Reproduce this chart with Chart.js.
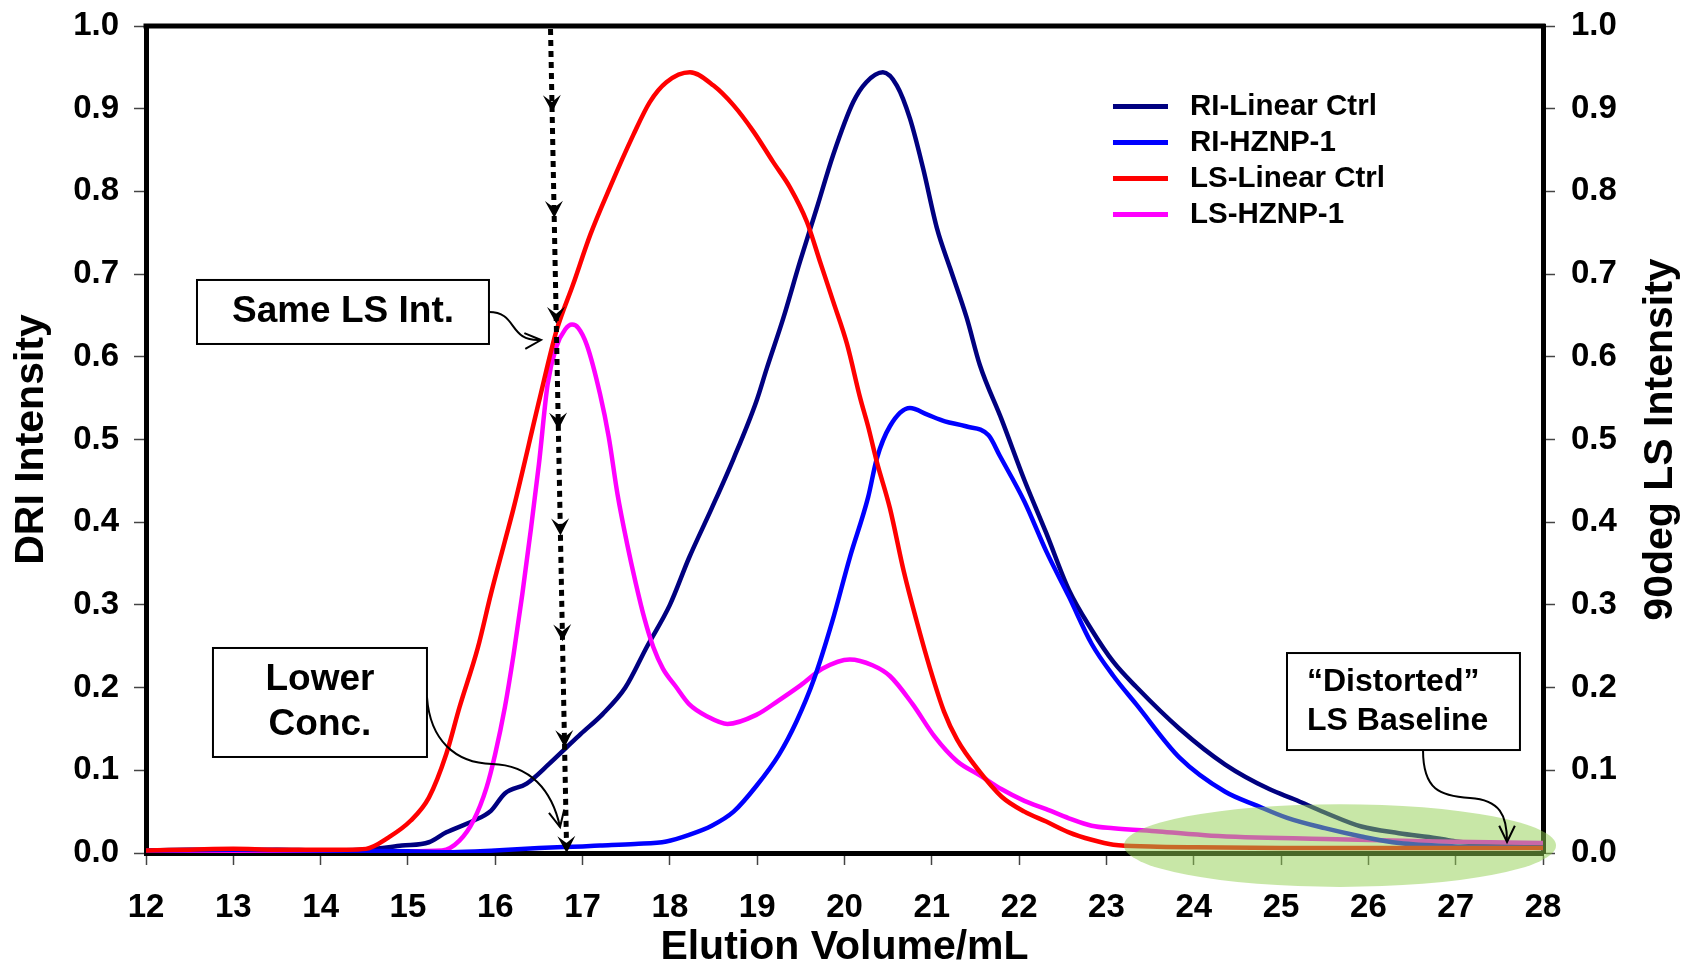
<!DOCTYPE html>
<html>
<head>
<meta charset="utf-8">
<script src="https://cdn.jsdelivr.net/npm/chart.js@4.4.1/dist/chart.umd.min.js"></script>
<style>
html,body{margin:0;padding:0;background:#fff;}
#wrap{width:1686px;height:964px;}
</style>
</head>
<body>
<div id="wrap"><canvas id="c" width="1686" height="964"></canvas></div>
<script>
// ---------- DATA ----------
const riLinearX = [12, 12.5, 13, 13.5, 14, 14.5, 14.93, 15.24, 15.44, 15.75, 15.95, 16.11, 16.36, 16.62, 16.82, 16.98, 17.23, 17.49, 17.74, 18.0, 18.22, 18.48, 18.73, 18.99, 19.11, 19.30, 19.49, 19.68, 19.87, 20.10, 20.25, 20.44, 20.60, 20.75, 20.90, 21.06, 21.21, 21.40, 21.55, 21.80, 22.06, 22.31, 22.57, 22.83, 23.08, 23.34, 23.84, 24.36, 24.87, 25.15, 25.5, 25.92, 26.35, 26.78, 27.0, 27.5, 28];
const riLinearY = [0.003, 0.004, 0.003, 0.004, 0.003, 0.004, 0.009, 0.013, 0.025, 0.039, 0.051, 0.072, 0.084, 0.108, 0.128, 0.144, 0.168, 0.200, 0.250, 0.300, 0.357, 0.417, 0.477, 0.546, 0.586, 0.647, 0.715, 0.779, 0.844, 0.908, 0.932, 0.944, 0.928, 0.888, 0.828, 0.755, 0.707, 0.647, 0.590, 0.524, 0.451, 0.387, 0.318, 0.270, 0.231, 0.201, 0.150, 0.107, 0.077, 0.065, 0.049, 0.032, 0.024, 0.018, 0.014, 0.010, 0.008];

const riHznpX = [12, 13, 14, 15, 15.5, 16, 16.5, 17, 17.2, 17.6, 17.96, 18.22, 18.48, 18.73, 18.99, 19.25, 19.45, 19.65, 19.86, 20.06, 20.27, 20.37, 20.52, 20.75, 20.95, 21.15, 21.39, 21.65, 21.78, 22.06, 22.31, 22.57, 22.83, 23.08, 23.34, 23.84, 24.36, 24.73, 25.07, 25.5, 25.92, 26.35, 27.0, 27.5, 28];
const riHznpY = [0.003, 0.004, 0.003, 0.002, 0.001, 0.003, 0.006, 0.008, 0.009, 0.011, 0.014, 0.022, 0.033, 0.050, 0.081, 0.119, 0.159, 0.210, 0.280, 0.357, 0.430, 0.477, 0.516, 0.538, 0.530, 0.522, 0.516, 0.505, 0.480, 0.425, 0.365, 0.310, 0.253, 0.214, 0.180, 0.115, 0.074, 0.057, 0.0425, 0.030, 0.020, 0.012, 0.008, 0.007, 0.006];

const lsLinearX = [12, 12.5, 13, 13.5, 14, 14.3, 14.52, 14.78, 15.03, 15.24, 15.44, 15.59, 15.80, 15.95, 16.11, 16.21, 16.51, 16.70, 16.89, 17.09, 17.31, 17.58, 17.77, 17.96, 18.23, 18.50, 18.73, 18.96, 19.18, 19.38, 19.57, 19.72, 19.87, 20.03, 20.18, 20.27, 20.37, 20.52, 20.68, 20.83, 20.98, 21.14, 21.29, 21.55, 21.80, 22.06, 22.31, 22.57, 22.83, 23.08, 23.5, 24, 25, 26, 27, 28];
const lsLinearY = [0.003, 0.004, 0.005, 0.004, 0.004, 0.004, 0.005, 0.019, 0.039, 0.067, 0.120, 0.176, 0.248, 0.313, 0.377, 0.417, 0.550, 0.631, 0.687, 0.748, 0.804, 0.868, 0.908, 0.932, 0.944, 0.928, 0.904, 0.872, 0.836, 0.804, 0.763, 0.715, 0.667, 0.615, 0.550, 0.516, 0.473, 0.417, 0.340, 0.279, 0.223, 0.171, 0.137, 0.098, 0.068, 0.050, 0.038, 0.025, 0.016, 0.010, 0.008, 0.007, 0.006, 0.006, 0.006, 0.006];

const lsHznpX = [12, 13, 14, 15, 15.39, 15.59, 15.75, 15.90, 16.0, 16.11, 16.21, 16.31, 16.41, 16.5, 16.6, 16.7, 16.8, 16.88, 16.95, 17.05, 17.2, 17.30, 17.40, 17.51, 17.61, 17.71, 17.81, 17.92, 18.07, 18.22, 18.43, 18.66, 18.99, 19.24, 19.50, 19.75, 20.06, 20.32, 20.52, 20.78, 21.03, 21.29, 21.55, 21.80, 22.06, 22.31, 22.57, 22.83, 23.08, 23.6, 24.2, 25.5, 26.78, 28];
const lsHznpY = [0.002, 0.002, 0.002, 0.002, 0.003, 0.015, 0.039, 0.079, 0.120, 0.176, 0.240, 0.313, 0.393, 0.470, 0.567, 0.612, 0.633, 0.639, 0.635, 0.614, 0.555, 0.503, 0.434, 0.374, 0.326, 0.283, 0.249, 0.223, 0.201, 0.180, 0.165, 0.156, 0.167, 0.184, 0.203, 0.223, 0.234, 0.227, 0.214, 0.180, 0.141, 0.111, 0.094, 0.077, 0.063, 0.053, 0.042, 0.033, 0.030, 0.026, 0.021, 0.017, 0.014, 0.012];

const seriesLabels = ['RI-Linear Ctrl', 'RI-HZNP-1', 'LS-Linear Ctrl', 'LS-HZNP-1'];
const seriesColors = ['#000080', '#0000FF', '#FF0000', '#FF00FF'];
const xTickMin = 12, xTickMax = 28, xTickStep = 1;
const yTickMin = 0, yTickMax = 1, yTickStep = 0.1;
const xTitle = 'Elution Volume/mL';
const yTitle = 'DRI Intensity';
const y2Title = '90deg LS Intensity';

// annotation geometry (in data units)
const dottedLine = {x1: 16.633, y1: 1.0, x2: 16.818, y2: 0.0};
const dottedArrowYs = [0.896, 0.768, 0.64, 0.512, 0.384, 0.256, 0.128, 0.0];
const boxes = [
  {lines: ['Same LS Int.'], x1: 12.584, x2: 15.928, y1: 0.6929, y2: 0.6155, size: 37, gap: 0, align: 'center'},
  {lines: ['Lower', 'Conc.'], x1: 12.767, x2: 15.218, y1: 0.2479, y2: 0.1161, size: 37, gap: 45, align: 'center'},
  {lines: ['\u201CDistorted\u201D', 'LS Baseline'], x1: 25.068, x2: 27.736, y1: 0.2418, y2: 0.1245, size: 32, gap: 39, align: 'left'}
];
const connectors = [
  {start: [15.928, 0.6542], segs: [[16.261, 0.6542, 16.146, 0.6179, 16.524, 0.6203]]},
  {start: [15.218, 0.1886], segs: [[15.253, 0.1366, 15.539, 0.1088, 15.963, 0.1076], [16.398, 0.1064, 16.650, 0.0762, 16.742, 0.0314]]},
  {start: [26.626, 0.1245], segs: [[26.626, 0.0762, 26.820, 0.0689, 27.164, 0.0665], [27.507, 0.0641, 27.588, 0.0459, 27.588, 0.0133]]}
];
const ellipse = {cx: 25.675, cy: 0.009, rx: 2.474, ry: 0.05};
const legendPos = {x1: 23.075, x2: 23.705, xt: 23.957, y0: 0.9027, dy: 0.0435};

// ---------- CHART ----------
const FONT = '"Liberation Sans", Arial, Helvetica, sans-serif';
const toPts = (xs, ys) => xs.map((x, i) => ({x: x, y: ys[i]}));

const annotPlugin = {
  id: 'annot',
  afterDatasetsDraw(chart) {
    const ctx = chart.ctx;
    const xs = chart.scales.x, ys = chart.scales.y;
    const P = (x, y) => [xs.getPixelForValue(x), ys.getPixelForValue(y)];
    const ca = chart.chartArea;
    ctx.save();
    // top frame line
    ctx.strokeStyle = '#000'; ctx.lineWidth = 5;
    ctx.beginPath(); ctx.moveTo(ca.left - 2.5, ca.top); ctx.lineTo(ca.right + 2.5, ca.top); ctx.stroke();

    // ellipse (semi-transparent green)
    const [ecx, ecy] = P(ellipse.cx, ellipse.cy);
    const erx = xs.getPixelForValue(ellipse.cx + ellipse.rx) - ecx;
    const ery = ecy - ys.getPixelForValue(ellipse.cy + ellipse.ry);
    ctx.fillStyle = 'rgba(146,208,80,0.5)';
    ctx.beginPath(); ctx.ellipse(ecx, ecy, erx, ery, 0, 0, Math.PI * 2); ctx.fill();

    // dotted vertical line with arrowheads
    const [ax, ay] = P(dottedLine.x1, dottedLine.y1);
    const [bx, by] = P(dottedLine.x2, dottedLine.y2);
    ctx.strokeStyle = '#000'; ctx.lineWidth = 5; ctx.setLineDash([6, 5]);
    ctx.beginPath(); ctx.moveTo(ax, ay + 3); ctx.lineTo(bx, by); ctx.stroke();
    ctx.setLineDash([]);
    const ang = Math.atan2(by - ay, bx - ax);
    ctx.fillStyle = '#000';
    dottedArrowYs.forEach(v => {
      const t = (dottedLine.y1 - v) / (dottedLine.y1 - dottedLine.y2);
      const tx = ax + (bx - ax) * t, ty = ay + (by - ay) * t;
      ctx.save(); ctx.translate(tx, ty); ctx.rotate(ang);
      ctx.beginPath(); ctx.moveTo(0, 0); ctx.lineTo(-17, -9); ctx.lineTo(-10, 0); ctx.lineTo(-17, 9); ctx.closePath(); ctx.fill();
      ctx.restore();
    });

    // boxes with text
    boxes.forEach(b => {
      const [l, t] = P(b.x1, b.y1);
      const [r, bt] = P(b.x2, b.y2);
      ctx.fillStyle = '#fff'; ctx.fillRect(l, t, r - l, bt - t);
      ctx.strokeStyle = '#000'; ctx.lineWidth = 2; ctx.strokeRect(l, t, r - l, bt - t);
      ctx.fillStyle = '#000';
      ctx.font = 'bold ' + b.size + 'px ' + FONT;
      ctx.textBaseline = 'middle';
      const cy = (t + bt) / 2;
      const n = b.lines.length;
      b.lines.forEach((s, i) => {
        const yy = cy + (i - (n - 1) / 2) * b.gap;
        if (b.align === 'left') { ctx.textAlign = 'left'; ctx.fillText(s, l + 20, yy); }
        else { ctx.textAlign = 'center'; ctx.fillText(s, (l + r) / 2, yy); }
      });
    });

    // curved connectors with open arrowheads
    ctx.strokeStyle = '#000'; ctx.lineWidth = 2;
    connectors.forEach(c => {
      ctx.beginPath();
      let [sx, sy] = P(c.start[0], c.start[1]);
      ctx.moveTo(sx, sy);
      let lastC = null, end = null;
      c.segs.forEach(s => {
        const c1 = P(s[0], s[1]), c2 = P(s[2], s[3]), e = P(s[4], s[5]);
        ctx.bezierCurveTo(c1[0], c1[1], c2[0], c2[1], e[0], e[1]);
        lastC = c2; end = e;
      });
      ctx.stroke();
      const a = Math.atan2(end[1] - lastC[1], end[0] - lastC[0]);
      const L = 18, sp = 0.45;
      ctx.beginPath();
      ctx.moveTo(end[0] - L * Math.cos(a - sp), end[1] - L * Math.sin(a - sp));
      ctx.lineTo(end[0], end[1]);
      ctx.lineTo(end[0] - L * Math.cos(a + sp), end[1] - L * Math.sin(a + sp));
      ctx.stroke();
    });

    // legend
    ctx.font = 'bold 29.5px ' + FONT;
    ctx.textAlign = 'left'; ctx.textBaseline = 'middle';
    chart.data.datasets.forEach((ds, i) => {
      const yv = legendPos.y0 - i * legendPos.dy;
      const [lx1, ly] = P(legendPos.x1, yv);
      const [lx2] = P(legendPos.x2, yv);
      const [tx] = P(legendPos.xt, yv);
      ctx.strokeStyle = ds.borderColor; ctx.lineWidth = 5;
      ctx.beginPath(); ctx.moveTo(lx1, ly); ctx.lineTo(lx2, ly); ctx.stroke();
      ctx.fillStyle = '#000';
      ctx.fillText(ds.label, tx, ly);
    });

    // right axis title (reads bottom-to-top)
    const r2 = chart.scales.y2;
    ctx.save();
    ctx.translate(r2.right - 25, (ca.top + ca.bottom) / 2);
    ctx.rotate(-Math.PI / 2);
    ctx.font = 'bold 41px ' + FONT;
    ctx.textAlign = 'center'; ctx.textBaseline = 'middle';
    ctx.fillStyle = '#000';
    ctx.fillText(y2Title, 0, 0);
    ctx.restore();

    ctx.restore();
  }
};

const tickFont = {family: FONT, size: 33, weight: 'bold'};
const gridOpts = {drawOnChartArea: false, drawTicks: true, tickLength: 12, tickWidth: 1.5, tickColor: '#444'};
const borderOpts = {display: true, width: 5, color: '#000'};

new Chart(document.getElementById('c'), {
  type: 'line',
  data: {
    datasets: [
      {label: seriesLabels[0], data: toPts(riLinearX, riLinearY), borderColor: seriesColors[0], yAxisID: 'y', order: 3},
      {label: seriesLabels[1], data: toPts(riHznpX, riHznpY), borderColor: seriesColors[1], yAxisID: 'y', order: 1},
      {label: seriesLabels[2], data: toPts(lsLinearX, lsLinearY), borderColor: seriesColors[2], yAxisID: 'y2', order: 0},
      {label: seriesLabels[3], data: toPts(lsHznpX, lsHznpY), borderColor: seriesColors[3], yAxisID: 'y2', order: 2}
    ]
  },
  options: {
    responsive: false,
    animation: false,
    layout: {padding: {top: 26, left: 0, right: 0, bottom: 0}},
    elements: {
      point: {radius: 0, hoverRadius: 0},
      line: {borderWidth: 4.5, cubicInterpolationMode: 'monotone', borderJoinStyle: 'round', fill: false}
    },
    plugins: {legend: {display: false}, tooltip: {enabled: false}},
    scales: {
      x: {
        type: 'linear', position: 'bottom', min: xTickMin, max: xTickMax,
        ticks: {stepSize: xTickStep, font: tickFont, color: '#000', padding: 23, maxRotation: 0, autoSkip: false},
        grid: gridOpts, border: borderOpts,
        title: {display: true, text: xTitle, color: '#000', font: {family: FONT, size: 41, weight: 'bold', lineHeight: 1}, padding: {top: 0, bottom: -4}},
        afterFit: s => { s.height = 111; s.paddingLeft = 0; s.paddingRight = 0; }
      },
      y: {
        type: 'linear', position: 'left', min: yTickMin, max: yTickMax,
        ticks: {stepSize: yTickStep, font: tickFont, color: '#000', padding: 15, callback: v => v.toFixed(1)},
        grid: gridOpts, border: borderOpts,
        title: {display: true, text: yTitle, color: '#000', font: {family: FONT, size: 41, weight: 'bold', lineHeight: 1}, padding: {top: 11, bottom: 0}},
        afterFit: s => { s.width = 146; s.paddingTop = 0; s.paddingBottom = 0; }
      },
      y2: {
        type: 'linear', position: 'right', min: yTickMin, max: yTickMax,
        ticks: {stepSize: yTickStep, font: tickFont, color: '#000', padding: 16, callback: v => v.toFixed(1)},
        grid: gridOpts, border: borderOpts,
        afterFit: s => { s.width = 143; s.paddingTop = 0; s.paddingBottom = 0; }
      }
    }
  },
  plugins: [annotPlugin]
});
</script>
</body>
</html>
